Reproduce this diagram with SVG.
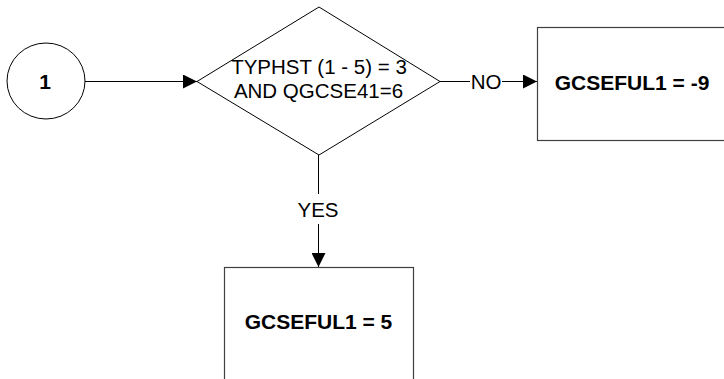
<svg xmlns="http://www.w3.org/2000/svg" width="724" height="379" viewBox="0 0 724 379">
<style>
  .shape { fill: #ffffff; stroke: #000000; stroke-width: 1; }
  .box { fill: #ffffff; stroke: #404040; stroke-width: 1.2; }
  .line { fill: none; stroke: #000000; stroke-width: 1; }
  .t { font-family: "Liberation Sans", Arial, sans-serif; fill: #000000; text-anchor: middle; }
  .reg { font-size: 20.5px; }
  .bold { font-size: 21px; font-weight: bold; }
</style>
<defs>
  <marker id="arrow" viewBox="0 0 14 14" refX="14" refY="7" markerWidth="14" markerHeight="14" markerUnits="userSpaceOnUse" orient="auto">
    <path d="M0,0 L14,7 L0,14 Z" fill="#000000"/>
  </marker>
</defs>
<rect width="724" height="379" fill="#ffffff"/>
<g id="connectors">
  <line class="line" x1="85" y1="81.5" x2="197" y2="81.5" marker-end="url(#arrow)"/>
  <line class="line" x1="440" y1="81.5" x2="470" y2="81.5"/>
  <line class="line" x1="502" y1="81.5" x2="537" y2="81.5" marker-end="url(#arrow)"/>
  <text class="t reg" x="486" y="89">NO</text>
  <line class="line" x1="318.5" y1="155" x2="318.5" y2="194"/>
  <line class="line" x1="318.5" y1="224" x2="318.5" y2="267" marker-end="url(#arrow)"/>
  <text class="t reg" x="318" y="217">YES</text>
</g>
<g id="node-start">
  <ellipse class="shape" cx="46" cy="81" rx="39" ry="38"/>
  <text class="t bold" x="45" y="89">1</text>
</g>
<g id="node-decision">
  <polygon class="shape" points="197,81.5 319,7 440,81.5 319,155"/>
  <text class="t reg" x="319" y="74">TYPHST (1 - 5) = 3</text>
  <text class="t reg" x="318.5" y="98">AND QGCSE41=6</text>
</g>
<g id="node-no">
  <rect class="box" x="537.5" y="27.5" width="189" height="113"/>
  <text class="t bold" x="632" y="90">GCSEFUL1 = -9</text>
</g>
<g id="node-yes">
  <rect class="box" x="224.5" y="267.5" width="189" height="120"/>
  <text class="t bold" x="318.5" y="329">GCSEFUL1 = 5</text>
</g>
</svg>
